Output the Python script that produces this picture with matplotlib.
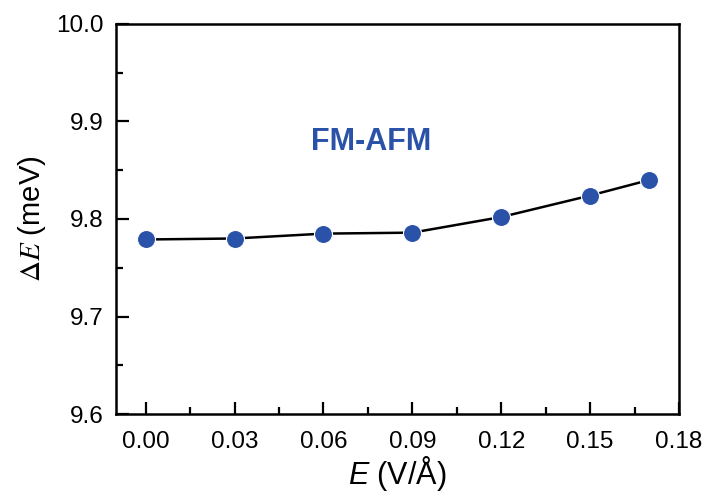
import matplotlib
matplotlib.use("Agg")
import matplotlib.pyplot as plt
from matplotlib.ticker import MultipleLocator

plt.rcParams['font.family'] = ['Liberation Sans', 'DejaVu Sans']
plt.rcParams['mathtext.fontset'] = 'custom'
plt.rcParams['mathtext.rm'] = 'Liberation Sans'
plt.rcParams['mathtext.it'] = 'Liberation Sans:italic'

alan = [0.00, 0.03, 0.06, 0.09, 0.12, 0.15, 0.17]
delta_e = [9.779, 9.780, 9.785, 9.786, 9.802, 9.824, 9.840]

fig = plt.figure(figsize=(7.08, 4.96), dpi=100)
ax = fig.add_axes([0.164, 0.165, 0.795, 0.787])

ax.plot(alan, delta_e, color="black", linewidth=1.8, zorder=2)
ax.plot(alan, delta_e, linestyle="none", marker="o", markersize=13,
        markerfacecolor="#2a52a8", markeredgecolor="white", markeredgewidth=0.8, zorder=3)

ax.text(0.0761, 9.879, "FM-AFM", color="#2a52a8", fontsize=22, fontweight="bold",
        ha="center", va="center")

ax.set_xlim(-0.01, 0.18)
ax.set_ylim(9.6, 10.0)
ax.xaxis.set_minor_locator(MultipleLocator(0.015))
ax.yaxis.set_minor_locator(MultipleLocator(0.05))
ax.set_xticks([0.00, 0.03, 0.06, 0.09, 0.12, 0.15, 0.18])
ax.set_xticklabels(["0.00", "0.03", "0.06", "0.09", "0.12", "0.15", "0.18"])
ax.set_yticks([9.6, 9.7, 9.8, 9.9, 10.0])
ax.set_yticklabels(["9.6", "9.7", "9.8", "9.9", "10.0"])

ax.tick_params(which="both", direction="in", top=False, right=False, width=1.6, labelsize=17.5)
ax.tick_params(axis="x", which="major", length=9, pad=12)
ax.tick_params(axis="y", which="major", length=9, pad=9)
ax.tick_params(which="minor", length=5)
for s in ax.spines.values():
    s.set_linewidth(1.8)

ax.set_xlabel(r"$\mathit{E}$ (V/Å)", fontsize=22, labelpad=1)
ax.set_ylabel(r"$\Delta E$ (meV)", fontsize=21, labelpad=6, math_fontfamily="stix")

fig.savefig("out.png", dpi=100)
